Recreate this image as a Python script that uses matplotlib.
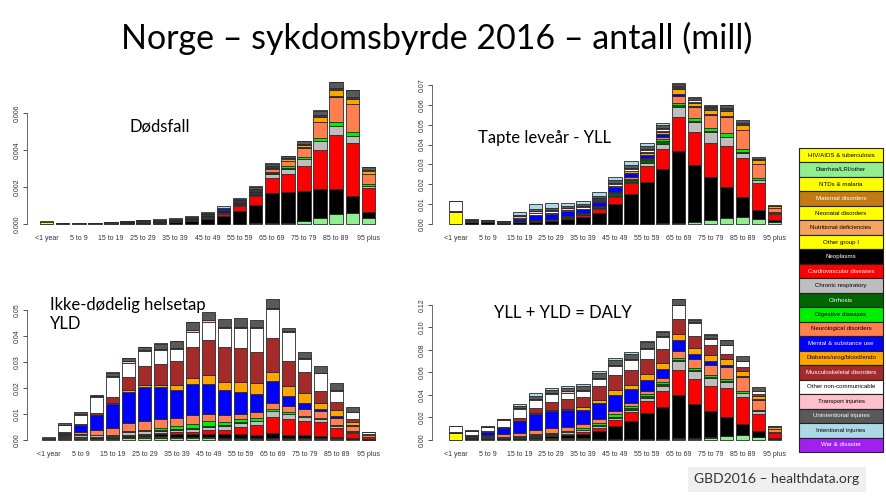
import matplotlib
matplotlib.use("Agg")
import matplotlib.pyplot as plt
from matplotlib.patches import Rectangle
import numpy as np

plt.rcParams['font.family'] = ['Liberation Sans', 'DejaVu Sans']

W, H = 886, 496

aldersgrupper = ["<1 year", "1 to 4", "5 to 9", "10 to 14", "15 to 19", "20 to 24",
                 "25 to 29", "30 to 34", "35 to 39", "40 to 44", "45 to 49", "50 to 54",
                 "55 to 59", "60 to 64", "65 to 69", "70 to 74", "75 to 79", "80 to 84",
                 "85 to 89", "90 to 94", "95 plus"]

arsaker = ["HIV/AIDS & tuberculosis", "Diarrhea/LRI/other", "NTDs & malaria",
           "Maternal disorders", "Neonatal disorders", "Nutritional deficiencies",
           "Other group I", "Neoplasms", "Cardiovascular diseases", "Chronic respiratory",
           "Cirrhosis", "Digestive diseases", "Neurological disorders",
           "Mental & substance use", "Diabetes/urog/blood/endo", "Musculoskeletal disorders",
           "Other non-communicable", "Transport injuries", "Unintentional injuries",
           "Intentional injuries", "War & disaster"]

farger = ["#FFFF00", "#90EE90", "#FFFF00", "#C47A14", "#FFFF00", "#F4A460", "#FFFF00",
          "#000000", "#FF0000", "#BEBEBE", "#006400", "#00EE00", "#FF7F50", "#0000FF",
          "#FFA500", "#A52A2A", "#FFFFFF", "#FFC0CB", "#595959", "#ADD8E6", "#A020F0"]

tekstfarger = ["black", "black", "black", "white", "black", "black", "black", "white",
               "white", "black", "white", "black", "black", "white", "black", "white",
               "black", "black", "white", "black", "white"]

# verdier i tusen (antall mill * 1000)
null = [0] * 21

# Dødsfall
dod_lri = [0.01, 0, 0, 0, 0, 0, 0, 0, 0, 0, 0.01, 0.01, 0.02, 0.03, 0.03, 0.06, 0.16, 0.34, 0.52, 0.58, 0.34]
dod_neonatal = [0.09, 0, 0, 0, 0, 0, 0, 0, 0, 0, 0, 0, 0, 0, 0, 0, 0, 0, 0, 0, 0]
dod_neoplasmer = [0.01, 0.03, 0.02, 0.02, 0.03, 0.04, 0.06, 0.08, 0.11, 0.14, 0.25, 0.42, 0.68, 1.01, 1.63, 1.67, 1.62, 1.53, 1.39, 0.93, 0.31]
dod_hjertekar = [0.01, 0, 0, 0, 0.01, 0.01, 0.02, 0.02, 0.03, 0.06, 0.09, 0.13, 0.27, 0.47, 0.84, 0.99, 1.35, 2.13, 2.89, 2.89, 1.31]
dod_luft = [0, 0, 0, 0, 0, 0, 0, 0, 0, 0.01, 0.01, 0.02, 0.06, 0.08, 0.22, 0.27, 0.37, 0.49, 0.50, 0.36, 0.09]
dod_cirrhose = [0, 0, 0, 0, 0, 0, 0, 0.01, 0.01, 0.02, 0.03, 0.04, 0.04, 0.04, 0.04, 0.03, 0.03, 0.02, 0.01, 0.01, 0]
dod_fordoyelse = [0, 0, 0, 0, 0, 0, 0, 0, 0, 0.01, 0.01, 0.01, 0.02, 0.03, 0.04, 0.10, 0.09, 0.14, 0.20, 0.20, 0.12]
dod_nevro = [0, 0, 0, 0, 0, 0, 0, 0, 0, 0.01, 0.01, 0.02, 0.04, 0.08, 0.15, 0.27, 0.50, 0.84, 1.37, 1.50, 0.54]
dod_psykisk = [0, 0, 0, 0, 0.02, 0.04, 0.05, 0.05, 0.05, 0.05, 0.09, 0.12, 0.05, 0.03, 0.02, 0.02, 0.02, 0.02, 0.02, 0.02, 0.01]
dod_diabetes = [0, 0, 0, 0, 0, 0, 0, 0, 0.01, 0.01, 0.01, 0.02, 0.04, 0.06, 0.06, 0.08, 0.12, 0.26, 0.32, 0.28, 0.12]
dod_muskel = [0, 0, 0, 0, 0, 0, 0, 0, 0, 0, 0, 0.01, 0.02, 0.03, 0.03, 0.03, 0.04, 0.06, 0.06, 0.06, 0.04]
dod_andre = [0.05, 0.01, 0.01, 0.01, 0.01, 0.01, 0.01, 0.01, 0.01, 0.01, 0.02, 0.02, 0.03, 0.04, 0.05, 0.04, 0.04, 0.04, 0.05, 0.05, 0.04]
dod_transport = [0, 0.01, 0, 0.01, 0.02, 0.02, 0.02, 0.01, 0.01, 0.01, 0.01, 0.01, 0.01, 0.01, 0.01, 0.01, 0.01, 0.01, 0, 0, 0]
dod_ulykker = [0, 0.01, 0.01, 0, 0.02, 0.03, 0.03, 0.03, 0.03, 0.04, 0.05, 0.06, 0.08, 0.10, 0.15, 0.10, 0.13, 0.25, 0.32, 0.36, 0.17]
dod_vold = [0, 0, 0, 0.01, 0.02, 0.03, 0.04, 0.04, 0.04, 0.05, 0.05, 0.06, 0.05, 0.04, 0.03, 0.02, 0.02, 0.02, 0.02, 0.01, 0.01]

# Tapte leveår - YLL
yll_lri = [0.2, 0.2, 0.1, 0.1, 0.1, 0.1, 0.1, 0.1, 0.1, 0.1, 0.1, 0.1, 0.2, 0.3, 0.7, 0.9, 1.8, 2.9, 3.7, 2.4, 1.2]
yll_neonatal = [5.8, 0, 0, 0, 0, 0, 0, 0, 0, 0, 0, 0, 0, 0, 0, 0, 0, 0, 0, 0, 0]
yll_neoplasmer = [0.3, 0.9, 0.9, 0.6, 0.8, 1.0, 1.4, 2.2, 3.2, 5.5, 10.0, 14.8, 21.1, 27.2, 36.2, 28.8, 21.7, 15.6, 9.7, 4.7, 0.8]
yll_hjertekar = [0.1, 0.1, 0.1, 0.1, 0.2, 0.5, 0.7, 0.8, 1.2, 2.2, 3.7, 5.6, 7.9, 10.1, 16.8, 16.8, 17.4, 20.8, 19.7, 13.4, 3.0]
yll_luft = [0, 0.1, 0.1, 0.1, 0.1, 0.1, 0.1, 0.1, 0.2, 0.3, 0.5, 0.7, 1.3, 2.7, 5.1, 5.0, 5.6, 4.4, 2.8, 1.7, 0.6]
yll_cirrhose = [0, 0, 0, 0, 0, 0.1, 0.1, 0.2, 0.3, 0.4, 0.8, 1.2, 1.5, 1.6, 1.2, 0.6, 0.4, 0.3, 0.2, 0.1, 0]
yll_fordoyelse = [0.1, 0, 0, 0, 0.1, 0.1, 0.1, 0.2, 0.2, 0.3, 0.4, 0.5, 0.6, 0.8, 1.1, 1.4, 1.3, 1.7, 1.5, 1.1, 0.4]
yll_nevro = [0.1, 0.2, 0.2, 0.2, 0.2, 0.2, 0.2, 0.2, 0.2, 0.3, 0.4, 0.6, 0.8, 1.2, 3.3, 5.3, 6.7, 8.3, 9.7, 6.9, 2.1]
yll_psykisk = [0, 0, 0, 0, 1.2, 2.2, 2.5, 2.5, 2.0, 2.2, 2.5, 2.2, 1.4, 1.2, 1.2, 0.5, 0.4, 0.3, 0.2, 0.1, 0]
yll_diabetes = [0.1, 0.1, 0.1, 0.1, 0.1, 0.2, 0.2, 0.3, 0.3, 0.5, 0.7, 0.8, 1.1, 1.3, 2.2, 1.8, 2.1, 2.7, 2.3, 2.0, 0.8]
yll_muskel = [0, 0, 0, 0, 0, 0, 0.1, 0.1, 0.1, 0.1, 0.1, 0.2, 0.3, 0.4, 0.5, 0.5, 0.5, 0.5, 0.4, 0.2, 0]
yll_andre = [4.8, 0.5, 0.2, 0.2, 0.4, 0.9, 0.8, 0.6, 0.6, 0.7, 0.9, 1.0, 1.1, 1.2, 0.8, 0.8, 0.6, 0.6, 0.5, 0.3, 0.2]
yll_transport = [0, 0.1, 0.1, 0.1, 0.6, 1.0, 1.0, 0.7, 0.6, 0.5, 0.4, 0.4, 0.3, 0.3, 0.2, 0.2, 0.2, 0.1, 0, 0, 0]
yll_ulykker = [0.3, 0.4, 0.2, 0.1, 0.8, 1.2, 1.0, 1.0, 1.0, 1.1, 1.5, 1.8, 1.8, 1.6, 1.4, 0.9, 0.9, 1.8, 1.7, 0.9, 0.5]
yll_vold = [0, 0, 0, 0.1, 1.6, 2.4, 2.1, 1.8, 1.8, 1.7, 1.8, 1.7, 1.5, 0.8, 0.4, 0.3, 0.2, 0.1, 0, 0, 0]

# Ikke-dødelig helsetap - YLD
yld_lri = [0.2, 0.5, 0.5, 0.5, 0.4, 0.6, 0.6, 0.6, 0.6, 0.6, 0.6, 0.5, 0.5, 0.4, 0.4, 0.4, 0.4, 0.4, 0.4, 0.3, 0.1]
yld_maternal = [0, 0, 0, 0, 0, 0.2, 0.3, 0.3, 0.2, 0.1, 0, 0, 0, 0, 0, 0, 0, 0, 0, 0, 0]
yld_neonatal = [0.3, 0, 0, 0, 0, 0, 0, 0, 0, 0, 0, 0, 0, 0, 0, 0, 0, 0, 0, 0, 0]
yld_ernaering = [0.1, 0.3, 0.3, 0.2, 0.2, 0.2, 0.2, 0.2, 0.2, 0.2, 0.2, 0.2, 0.2, 0.2, 0.2, 0.2, 0.2, 0.2, 0.2, 0.1, 0]
yld_gruppe1 = [0, 0.2, 0.2, 0.2, 0.2, 0.3, 0.3, 0.3, 0.3, 0.3, 0.3, 0.2, 0.2, 0.2, 0.1, 0.1, 0.1, 0.1, 0, 0, 0]
yld_neoplasmer = [0.1, 0.1, 0.1, 0.1, 0.2, 0.4, 0.6, 0.8, 1.0, 1.2, 1.4, 1.3, 1.5, 1.2, 2.1, 1.4, 1.1, 0.8, 0.5, 0.3, 0.1]
yld_hjertekar = [0, 0, 0, 0, 0.1, 0.3, 0.3, 0.4, 0.6, 0.8, 1.2, 1.8, 2.6, 3.6, 5.9, 5.9, 5.6, 5.3, 3.5, 2.0, 0.9]
yld_luft = [0, 0.5, 0.8, 0.8, 0.6, 0.9, 1.0, 1.0, 1.0, 1.1, 1.3, 1.3, 1.6, 1.6, 2.3, 1.9, 1.4, 1.2, 0.8, 0.5, 0.2]
yld_cirrhose = [0, 0, 0, 0, 0, 0.1, 0.1, 0.2, 0.3, 0.4, 0.5, 0.4, 0.4, 0.3, 0.3, 0.2, 0.1, 0, 0, 0, 0]
yld_fordoyelse = [0, 0.2, 0.3, 0.3, 0.3, 0.5, 0.6, 0.8, 1.0, 1.3, 1.7, 1.2, 1.1, 0.8, 0.7, 0.6, 0.4, 0.3, 0.2, 0.1, 0]
yld_nevro = [0, 0.4, 1.0, 1.7, 2.5, 3.0, 3.5, 3.5, 3.2, 3.7, 2.9, 2.6, 2.0, 2.4, 2.2, 2.2, 2.6, 2.7, 2.8, 1.9, 0.5]
yld_psykisk = [0, 0.5, 2.6, 5.8, 9.3, 11.9, 12.7, 12.1, 10.9, 11.9, 11.3, 9.6, 8.4, 6.9, 8.6, 3.9, 2.5, 0.9, 0.9, 0.7, 0.2]
yld_diabetes = [0, 0.2, 0.2, 0.2, 0.3, 0.7, 0.9, 0.9, 1.9, 2.2, 3.7, 3.4, 4.0, 4.3, 3.2, 4.0, 3.6, 2.5, 2.3, 0.9, 0.2]
yld_muskel = [0, 0.1, 0.3, 0.5, 2.6, 5.1, 7.2, 8.2, 9.2, 11.8, 13.4, 13.1, 12.8, 11.9, 13.1, 9.4, 8.3, 4.5, 3.2, 1.4, 0.3]
yld_andre = [0.3, 2.7, 3.5, 6.4, 7.7, 5.6, 6.1, 5.4, 4.5, 6.1, 7.0, 7.4, 7.7, 9.2, 11.2, 11.5, 4.8, 6.8, 4.2, 2.4, 0.4]
yld_transport = [0, 0.1, 0.1, 0.1, 0.3, 0.4, 0.4, 0.4, 0.5, 0.6, 0.6, 0.5, 0.6, 0.5, 0.5, 0.3, 0.3, 0.2, 0.1, 0, 0]
yld_ulykker = [0, 0.7, 0.7, 0.5, 1.2, 1.2, 0.8, 2.0, 2.6, 2.9, 3.0, 2.9, 3.5, 2.7, 3.4, 1.2, 2.5, 2.6, 3.0, 2.2, 0.3]
yld_vold = [0, 0, 0, 0, 0.2, 0.1, 0.1, 0.1, 0.1, 0.1, 0, 0, 0, 0, 0, 0, 0, 0, 0, 0, 0]

dodsfall = [null, dod_lri, null, null, dod_neonatal, null, null, dod_neoplasmer, dod_hjertekar,
            dod_luft, dod_cirrhose, dod_fordoyelse, dod_nevro, dod_psykisk, dod_diabetes,
            dod_muskel, dod_andre, dod_transport, dod_ulykker, dod_vold, null]
yll = [null, yll_lri, null, null, yll_neonatal, null, null, yll_neoplasmer, yll_hjertekar,
       yll_luft, yll_cirrhose, yll_fordoyelse, yll_nevro, yll_psykisk, yll_diabetes,
       yll_muskel, yll_andre, yll_transport, yll_ulykker, yll_vold, null]
yld = [null, yld_lri, null, yld_maternal, yld_neonatal, yld_ernaering, yld_gruppe1, yld_neoplasmer,
       yld_hjertekar, yld_luft, yld_cirrhose, yld_fordoyelse, yld_nevro, yld_psykisk,
       yld_diabetes, yld_muskel, yld_andre, yld_transport, yld_ulykker, yld_vold, null]
# DALY = YLL + YLD
daly = [np.add(a, b) for a, b in zip(yll, yld)]

fig = plt.figure(figsize=(W / 100, H / 100), dpi=100)


def tegn_panel(boks, y0, ppu, venstre, hoyre, data, yticks, fmt):
    axl, axr, axt, axb = boks
    ax = fig.add_axes([axl / W, 1 - axb / H, (axr - axl) / W, (axb - axt) / H])
    x = np.arange(len(aldersgrupper))
    bunn = np.zeros(len(x))
    for verdier, farge in zip(data, farger):
        v = np.array(verdier, dtype=float) / 1000
        m = v > 0
        if m.any():
            ax.bar(x[m], v[m], bottom=bunn[m], width=1 / 1.2, color=farge,
                   edgecolor='#2a2a2a', linewidth=0.6)
        bunn += v
    upx = (hoyre - venstre) / (20 + 1 / 1.2)
    ax.set_xlim(-1 / 2.4 - (venstre - axl) / upx, 20 + 1 / 2.4 + (axr - hoyre) / upx)
    ax.set_ylim((y0 - axb) / ppu, (y0 - axt) / ppu)
    for s in ['top', 'right', 'bottom']:
        ax.spines[s].set_visible(False)
    ax.spines['left'].set_bounds(0, yticks[-1])
    ax.spines['left'].set_linewidth(0.6)
    ax.spines['left'].set_color('#555555')
    ax.set_yticks(yticks)
    ax.set_yticklabels([fmt.format(t) for t in yticks], rotation=90, va='center')
    ax.tick_params(axis='y', length=3, width=0.6, pad=1.5, labelsize=5,
                   colors='#333333')
    ax.set_xticks(x[::2])
    ax.set_xticklabels(aldersgrupper[::2])
    ax.tick_params(axis='x', length=0, pad=4, labelsize=5, colors='#333333')
    ax.patch.set_alpha(0)
    return ax


tegn_panel((27, 385, 76, 229), 224, 37 / 0.002, 40, 375, dodsfall,
           [0, 0.002, 0.004, 0.006], "{:.3f}")
tegn_panel((432, 790, 76, 229), 224, 19.86 / 0.01, 449, 781, yll,
           [0, 0.01, 0.02, 0.03, 0.04, 0.05, 0.06, 0.07], "{:.2f}")
tegn_panel((27, 385, 290, 445), 440, 26 / 0.01, 42, 375, yld,
           [0, 0.01, 0.02, 0.03, 0.04, 0.05], "{:.2f}")
tegn_panel((432, 790, 290, 445), 440, 22.56 / 0.02, 449, 781, daly,
           [0, 0.02, 0.04, 0.06, 0.08, 0.10, 0.12], "{:.2f}")

tittelfont = ['Lato', 'DejaVu Sans']
fig.text(437 / W, 1 - 38 / H, "Norge – sykdomsbyrde 2016 – antall (mill)",
         ha='center', va='center', fontsize=24.5, family=tittelfont)
fig.text(160 / W, 1 - 127 / H, "Dødsfall", ha='center', va='center',
         fontsize=12, family=tittelfont)
fig.text(544 / W, 1 - 138 / H, "Tapte leveår - YLL", ha='center', va='center',
         fontsize=12, family=tittelfont)
fig.text(50 / W, 1 - 305 / H, "Ikke-dødelig helsetap", ha='left', va='center',
         fontsize=12, family=tittelfont)
fig.text(50 / W, 1 - 324 / H, "YLD", ha='left', va='center',
         fontsize=12, family=tittelfont)
fig.text(563 / W, 1 - 313 / H, "YLL + YLD = DALY", ha='center', va='center',
         fontsize=12, family=tittelfont)

# kildeboks
fig.patches.append(Rectangle((688 / W, 1 - 492 / H), 178 / W, 25 / H,
                             transform=fig.transFigure, facecolor='#EFEFEF',
                             edgecolor='none', zorder=0))
fig.text(777 / W, 1 - 479 / H, "GBD2016 – healthdata.org", ha='center', va='center',
         fontsize=10, family=tittelfont, color='#333333')

# forklaring
lax = fig.add_axes([799 / W, 1 - 452 / H, 84 / W, 304 / H])
lax.set_xlim(0, 1)
lax.set_ylim(len(arsaker), 0)
lax.axis('off')
for i, (navn, farge, tf) in enumerate(zip(arsaker, farger, tekstfarger)):
    lax.add_patch(Rectangle((0, i), 1, 1, facecolor=farge, edgecolor='#222222',
                            linewidth=0.8, clip_on=False))
    lax.text(0.5, i + 0.5, navn, ha='center', va='center', fontsize=4.4, color=tf)

fig.savefig("out.png", dpi=100)
